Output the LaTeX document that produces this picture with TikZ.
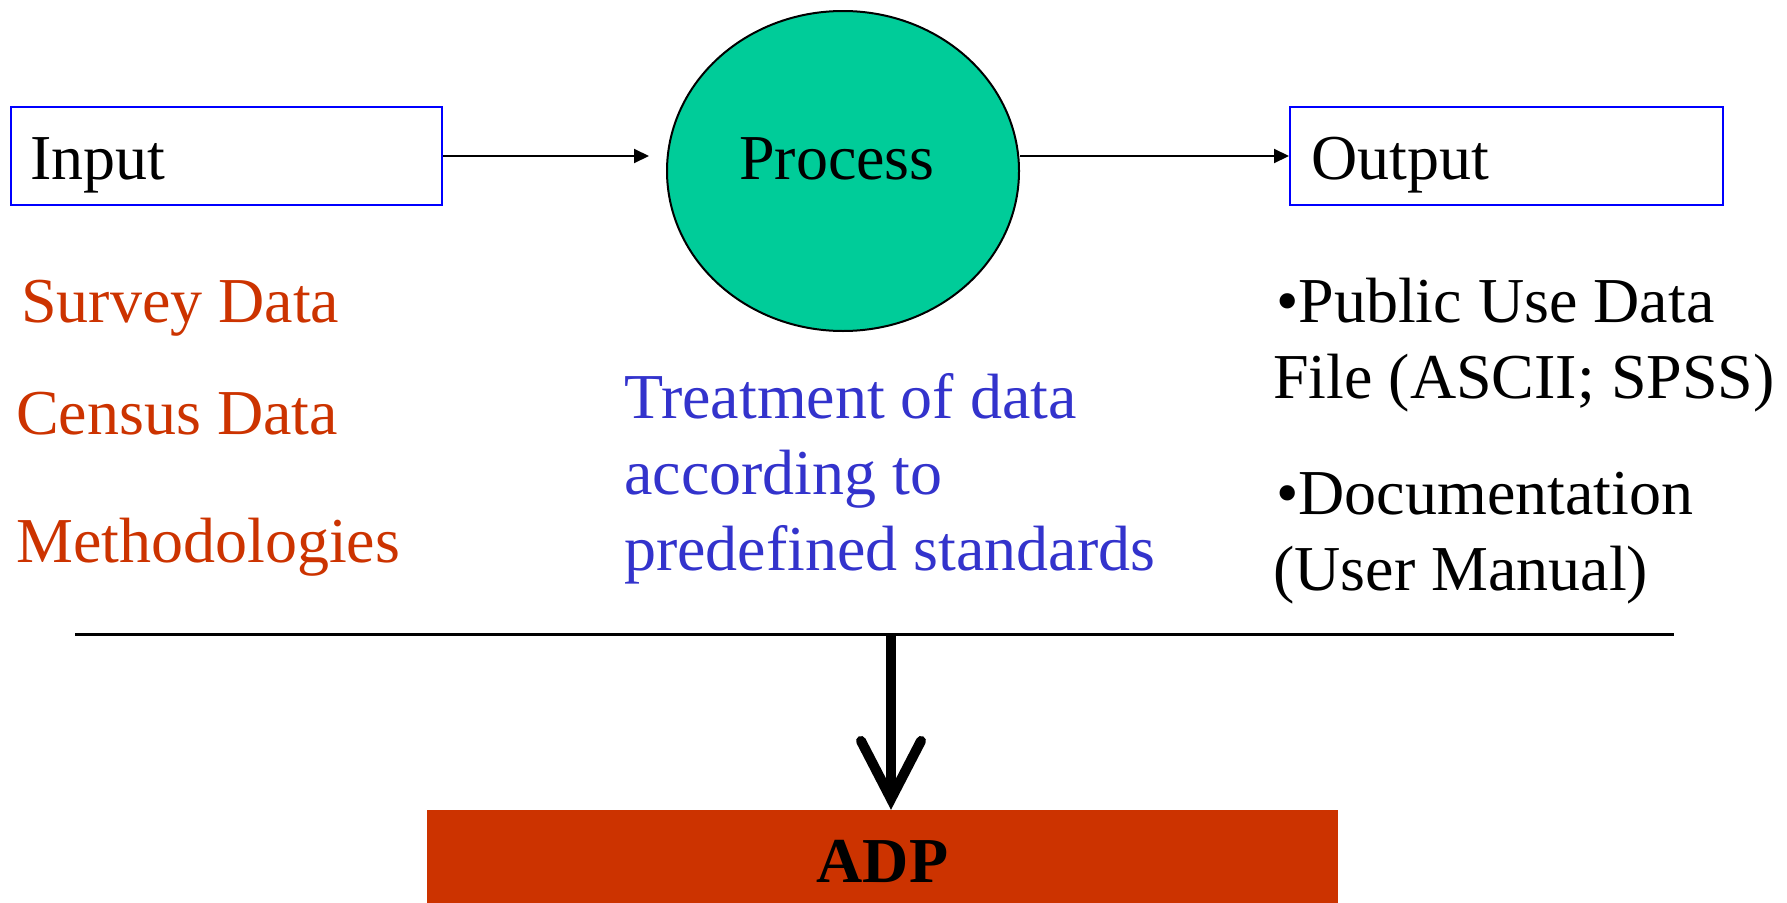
\documentclass[tikz,border=0pt]{standalone}
\usepackage{fontspec}
\setmainfont{Liberation Serif}
\usetikzlibrary{shapes.geometric,arrows.meta}
\definecolor{boxblue}{HTML}{0000FF}
\definecolor{txtred}{HTML}{CC3300}
\definecolor{txtblue}{HTML}{3333CC}
\definecolor{procgreen}{HTML}{00CC99}
\definecolor{adpred}{HTML}{CC3300}
\tikzset{
  txt/.style={font=\fontsize{64}{76}\selectfont, inner sep=0pt, anchor=base west},
  bluebox/.style={draw=boxblue, line width=2pt, rectangle, inner sep=0pt},
  thinarrow/.style={line width=2pt, -{Triangle[length=15pt,width=14pt]}},
}
\begin{document}
\begin{tikzpicture}[x=1pt,y=-1pt]
\useasboundingbox (0,0) rectangle (1787,902);
% boxes
\node[bluebox, minimum width=431pt, minimum height=98pt] (inbox) at (226.5,156) {};
\node[bluebox, minimum width=433pt, minimum height=98pt] (outbox) at (1506.5,156) {};
\node[txt] (intext) at (30,179) {Input};
\node[txt] (outtext) at (1311,179) {Output};
% process ellipse
\node[ellipse, draw=black, line width=2pt, fill=procgreen, minimum width=352pt, minimum height=320pt, inner sep=0pt] (proc) at (843,171) {};
\node[txt, anchor=base] (proctext) at (837,179) {Process};
% arrows
\draw[thinarrow, shorten >=17pt] (inbox.east) -- (inbox.east -| proc.west);
\draw[thinarrow] (outbox.west -| proc.east) -- (outbox.west);
% red list
\node[txt, text=txtred] (survey) at (21,322) {Survey Data};
\node[txt, text=txtred] (census) at (16,434) {Census Data};
\node[txt, text=txtred] (method) at (16,562) {Methodologies};
% blue text
\node[txt, text=txtblue] (tr1) at (624,418) {Treatment of data};
\node[txt, text=txtblue] (tr2) at (624,494) {according to};
\node[txt, text=txtblue] (tr3) at (624,570) {predefined standards};
% output list
\node[txt] (o1) at (1276,322) {•Public Use Data};
\node[txt] (o2) at (1273,398) {File (ASCII; SPSS)};
\node[txt] (o3) at (1276,514) {•Documentation};
\node[txt] (o4) at (1273,590) {(User Manual)};
% horizontal line
\coordinate (hl) at (75,634);
\coordinate (hr) at (1674,634);
\draw[line width=3pt] (hl) -- (hr);
% ADP
\node[rectangle, fill=adpred, minimum width=911pt, minimum height=102pt, inner sep=0pt, font=\fontsize{64}{76}\selectfont\bfseries] (adp) at (882.5,861) {ADP};
\coordinate (ta) at (891,634);
\draw[line width=10pt, -{Straight Barb[length=58pt,width=60pt,line cap=round]}] (ta) -- (ta |- adp.north);
\end{tikzpicture}
\end{document}
